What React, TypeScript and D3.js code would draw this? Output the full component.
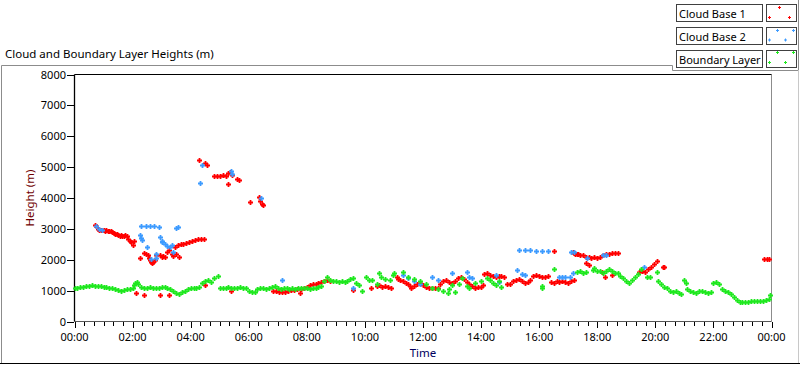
import React, { useEffect, useRef } from "react";
import { select, scaleLinear } from "d3";

// hour of day, height in metres
const cloudBase1: [number, number][] = [
  [0.7, 3120], [0.75, 3080], [0.8, 3000], [0.85, 2960], [0.9, 2950], [0.95, 2960], [1.0, 2950],
  [1.05, 2940], [1.1, 2960], [1.15, 2930], [1.2, 2920], [1.25, 2940], [1.3, 2900], [1.35, 2860],
  [1.4, 2840], [1.45, 2820], [1.5, 2800], [1.55, 2780], [1.6, 2790], [1.65, 2760], [1.7, 2770],
  [1.75, 2790], [1.8, 2760], [1.85, 2670], [1.9, 2620], [1.95, 2580], [2.0, 2470], [2.05, 2600],
  [2.12, 930], [2.24, 2050], [2.41, 845], [2.41, 2210], [2.47, 2180], [2.53, 2150], [2.58, 2050],
  [2.6, 1980], [2.64, 1920], [2.68, 1900], [2.72, 1940], [2.76, 1980], [2.81, 2150],
  [2.93, 870], [2.93, 2150], [3.0, 2100], [3.05, 2130], [3.1, 2080], [3.17, 2250], [3.25, 2300],
  [3.27, 870], [3.35, 2200], [3.4, 2120], [3.45, 2420], [3.5, 2200], [3.55, 2480], [3.6, 2080],
  [3.65, 2500], [3.75, 2520], [3.85, 2550], [3.95, 2580], [4.05, 2600], [4.15, 2640], [4.25, 2680],
  [4.35, 2660], [4.45, 2680], [4.48, 1170], [4.28, 5230], [4.48, 5130], [4.55, 5070],
  [4.82, 4720], [4.9, 4700], [5.0, 4720], [5.1, 4740], [5.2, 4700], [5.27, 4800], [5.3, 4450],
  [5.35, 4840], [5.4, 1000], [5.44, 4760], [5.6, 4620], [5.65, 4580], [6.05, 3880], [6.37, 4030],
  [6.4, 3900], [6.45, 3820], [6.48, 3770],
  [6.85, 980], [6.95, 1000], [7.05, 950], [7.15, 960], [7.25, 940], [7.35, 980], [7.45, 1010],
  [7.55, 1020], [7.65, 1040], [7.75, 920], [7.8, 1060], [7.9, 1080], [8.0, 1120], [8.1, 1170],
  [8.2, 1200], [8.3, 1220], [8.4, 1240], [8.5, 1280], [8.6, 1300], [8.7, 1330], [8.8, 1320],
  [9.58, 1020], [10.2, 1070], [10.4, 1150], [10.5, 1170], [10.6, 1130], [10.7, 1150], [10.8, 1120],
  [10.9, 1100], [11.1, 1430], [11.15, 1380], [11.2, 1350], [11.3, 1300], [11.4, 1250], [11.5, 1200],
  [11.55, 1150], [11.6, 1100], [11.7, 1150], [11.8, 1220], [11.9, 1250], [12.0, 1180], [12.1, 1120],
  [12.2, 1080], [12.3, 1070], [12.4, 1070], [12.5, 1090], [12.6, 1200], [12.7, 1300], [12.8, 1350],
  [12.9, 1280], [13.0, 1250], [13.1, 1300], [13.2, 1400], [13.3, 1430], [13.4, 1380], [13.5, 1270],
  [13.6, 1200], [13.7, 1150], [13.8, 1100], [13.9, 1130], [14.0, 1120], [14.05, 1170], [14.1, 1530],
  [14.2, 1560], [14.3, 1500], [14.4, 1480], [14.5, 1450], [14.6, 1480], [14.7, 1460], [14.8, 1430],
  [14.9, 1230], [15.0, 1230], [15.1, 1300], [15.2, 1350], [15.3, 1380], [15.4, 1300], [15.5, 1250],
  [15.6, 1280], [15.7, 1350], [15.8, 1480], [15.9, 1500], [16.0, 1470], [16.1, 1430], [16.2, 1450],
  [16.3, 1470], [16.4, 1270], [16.5, 1250], [16.6, 1300], [16.7, 1280], [16.8, 1320], [16.9, 1290],
  [17.0, 1260], [17.1, 1300], [17.2, 1330],
  [16.5, 2285], [17.15, 2240], [17.2, 2230], [17.25, 2200], [17.3, 2180], [17.35, 2200], [17.4, 2160],
  [17.5, 2150], [17.6, 2100], [17.7, 2080], [17.8, 2060], [17.9, 2080], [18.0, 2070], [18.1, 2100],
  [18.2, 2150], [18.3, 2180], [18.4, 2200], [18.5, 2230], [18.6, 2220], [18.7, 2210],
  [17.6, 1880], [17.7, 1830], [18.15, 1600], [18.25, 1450], [18.5, 1500], [19.45, 1600], [19.55, 1620],
  [19.65, 1600], [19.75, 1700], [19.85, 1750], [19.95, 1850], [20.05, 1950], [20.25, 1750],
  [20.3, 1770], [23.75, 2015], [23.85, 2015], [23.9, 2015],
];

const cloudBase2: [number, number][] = [
  [0.75, 3100], [0.85, 3000], [0.93, 2960], [2.24, 2800], [2.3, 2700], [2.34, 2630], [2.3, 3100],
  [2.45, 3080], [2.6, 3100], [2.75, 3080], [2.9, 3060], [3.5, 3020], [3.55, 3050], [2.5, 2400],
  [2.65, 2020], [2.8, 2200], [2.8, 2050], [2.93, 2730], [3.0, 2620], [3.03, 2570], [3.1, 2520],
  [3.2, 2450], [3.3, 2400], [3.37, 2470], [3.4, 2240], [4.33, 4500], [4.4, 5070], [5.4, 4890],
  [5.43, 4780], [6.43, 3990], [7.13, 1330], [9.58, 1070], [11.3, 1500], [11.5, 1400], [11.7, 1300],
  [11.9, 1230], [12.3, 1430], [12.5, 1330], [13.0, 1560], [13.5, 1600], [13.6, 1450], [13.7, 1400],
  [14.5, 1500], [14.6, 1270], [15.25, 1660], [15.4, 1550], [15.5, 1500], [15.3, 2300], [15.5, 2300],
  [15.7, 2300], [15.9, 2290], [16.1, 2285], [16.3, 2290], [16.7, 1430], [16.8, 1430], [16.9, 1430],
  [17.05, 1430], [17.15, 1560], [17.1, 2240], [17.2, 2240], [17.65, 2050], [18.2, 2150], [18.3, 2150],
  [19.6, 1750],
];

const boundaryLayer: [number, number][] = [
  [0.0, 1090], [0.1, 1100], [0.2, 1120], [0.3, 1130], [0.4, 1150], [0.5, 1160], [0.6, 1170],
  [0.7, 1150], [0.8, 1160], [0.9, 1140], [1.0, 1130], [1.1, 1120], [1.2, 1100], [1.3, 1070],
  [1.4, 1040], [1.5, 1010], [1.6, 1000], [1.7, 1020], [1.8, 1040], [1.9, 1060], [2.0, 1080],
  [2.05, 1180], [2.1, 1260], [2.15, 1290], [2.2, 1200], [2.3, 1120], [2.4, 1100], [2.5, 1090],
  [2.6, 1110], [2.7, 1100], [2.8, 1080], [2.9, 1100], [3.0, 1110], [3.1, 1120], [3.2, 1080],
  [3.3, 1040], [3.4, 980], [3.5, 930], [3.6, 900], [3.7, 940], [3.8, 990], [3.9, 1040], [4.0, 1070],
  [4.1, 1090], [4.2, 1100], [4.3, 1120], [4.4, 1240], [4.5, 1300], [4.6, 1350], [4.7, 1280],
  [4.8, 1400], [4.95, 1470], [5.0, 1100], [5.1, 1080], [5.2, 1100], [5.3, 1110], [5.4, 1090],
  [5.5, 1080], [5.6, 1100], [5.7, 1120], [5.8, 1100], [5.9, 1080], [6.0, 1000], [6.1, 950],
  [6.2, 960], [6.3, 1040], [6.4, 1070], [6.5, 1080], [6.6, 1050], [6.7, 1070], [6.8, 1120],
  [6.9, 1140], [7.0, 1100], [7.1, 1060], [7.2, 1080], [7.3, 1070], [7.4, 1050], [7.5, 1080],
  [7.6, 1060], [7.7, 1070], [7.8, 1090], [7.9, 1070], [8.0, 1080], [8.1, 1060], [8.2, 1090],
  [8.3, 1100], [8.4, 1110], [8.5, 1150], [8.6, 1300], [8.7, 1430], [8.8, 1350], [8.9, 1300],
  [9.0, 1320], [9.1, 1290], [9.2, 1300], [9.3, 1280], [9.4, 1310], [9.5, 1380], [9.6, 1400],
  [9.7, 1250], [9.8, 1180], [9.9, 985], [10.05, 1430], [10.15, 1330], [10.25, 1330], [10.4, 1230],
  [10.5, 1560], [10.55, 1430], [10.7, 1380], [10.85, 1330], [10.95, 1500], [11.0, 1560],
  [11.3, 1600], [11.5, 1450], [11.7, 1380], [11.9, 1300], [12.1, 1200], [12.3, 1100], [12.5, 1050],
  [12.7, 1000], [12.85, 920], [12.9, 1050], [13.0, 1180], [13.1, 950], [13.25, 1230], [13.35, 1400],
  [13.5, 1150], [13.6, 1100], [13.8, 1250], [14.0, 1300], [14.2, 1400], [14.3, 1350], [14.4, 1250],
  [14.5, 1170], [14.6, 1300], [14.7, 1120], [16.1, 1150], [16.1, 1070], [16.5, 1690], [17.3, 1600],
  [17.4, 1620], [17.5, 1580], [17.6, 1600], [17.85, 1680], [17.9, 1720], [18.0, 1650], [18.1, 1620],
  [18.2, 1580], [18.3, 1650], [18.4, 1700], [18.5, 1620], [18.6, 1580], [18.7, 1560], [18.8, 1480],
  [18.9, 1400], [19.0, 1300], [19.1, 1250], [19.2, 1350], [19.3, 1450], [19.4, 1550], [19.5, 1700],
  [19.7, 1430], [19.8, 1430], [20.05, 1600], [20.1, 1300], [20.2, 1200], [20.3, 1130], [20.4, 1070],
  [20.5, 1000], [20.6, 950], [20.7, 980], [20.8, 920], [20.9, 900], [21.0, 1350], [21.05, 1250],
  [21.1, 1050], [21.2, 1000], [21.3, 950], [21.4, 920], [21.5, 1000], [21.6, 1000], [21.7, 950],
  [21.8, 920], [21.9, 950], [22.0, 1250], [22.1, 1270], [22.2, 1230], [22.3, 1050], [22.4, 980],
  [22.5, 950], [22.6, 900], [22.7, 780], [22.8, 700], [22.9, 640], [23.0, 630], [23.1, 620],
  [23.2, 640], [23.3, 650], [23.4, 660], [23.5, 650], [23.6, 680], [23.7, 660], [23.8, 700],
  [23.9, 720], [23.95, 850],
];

const yTicks = [0, 1000, 2000, 3000, 4000, 5000, 6000, 7000, 8000];
const xTickHours = [0, 2, 4, 6, 8, 10, 12, 14, 16, 18, 20, 22, 24];
const xTickLabels = ["00:00", "02:00", "04:00", "06:00", "08:00", "10:00", "12:00", "14:00", "16:00", "18:00", "20:00", "22:00", "00:00"];
const seriesNames = ["Cloud Base 1", "Cloud Base 2", "Boundary Layer"];
const seriesColors = ["#ff0000", "#3d9bff", "#1fe81f"];

const FONT = "'Noto Sans', sans-serif";

export default function App() {
  const svgRef = useRef<SVGSVGElement>(null);

  useEffect(() => {
    const W = 800, H = 365;
    const svg = select(svgRef.current);
    svg.selectAll("*").remove();
    svg.attr("width", W).attr("height", H).style("font-family", FONT);

    svg.append("rect").attr("width", W).attr("height", H).attr("fill", "#ffffff");

    const x = scaleLinear().domain([0, 24]).range([74.5, 771.5]);
    const y = scaleLinear().domain([0, 8000]).range([321.5, 74.5]);

    // === outer frame ===
    svg.append("path").attr("d", "M1.5,363V65.5H672.5").attr("fill", "none").attr("stroke", "#8c8c8c");
    svg.append("line").attr("x1", 0).attr("x2", W).attr("y1", 363.5).attr("y2", 363.5).attr("stroke", "#000");
    svg.append("path").attr("d", "M672.5,65.5V70.5H798.5V0").attr("fill", "none").attr("stroke", "#8c8c8c");
    svg.append("line").attr("x1", 798.5).attr("x2", 798.5).attr("y1", 70).attr("y2", 363).attr("stroke", "#c8c8c8");

    svg.append("text")
      .attr("x", 5).attr("y", 58)
      .attr("font-size", "11.5px").attr("fill", "#000")
      .text("Cloud and Boundary Layer Heights (m)");

    // === plot frame ===
    svg.append("line").attr("x1", x(24)).attr("x2", x(24)).attr("y1", y(8000)).attr("y2", y(0)).attr("stroke", "#8c8c8c");
    svg.append("line").attr("x1", x(0)).attr("x2", x(24)).attr("y1", y(8000)).attr("y2", y(8000)).attr("stroke", "#000");
    svg.append("line").attr("x1", x(0)).attr("x2", x(24)).attr("y1", y(0)).attr("y2", y(0)).attr("stroke", "#555");
    svg.append("line").attr("x1", x(0)).attr("x2", x(0)).attr("y1", y(8000)).attr("y2", y(0)).attr("stroke", "#000").attr("stroke-width", 1.3);

    // === y axis ===
    const gy = svg.append("g");
    yTicks.forEach((t) => {
      gy.append("line").attr("x1", 67).attr("x2", 74).attr("y1", Math.round(y(t)) + 0.5).attr("y2", Math.round(y(t)) + 0.5).attr("stroke", "#000");
      gy.append("text").attr("x", 66).attr("y", Math.round(y(t)) + 4)
        .attr("text-anchor", "end").attr("font-size", "11px").attr("fill", "#000").text(String(t));
    });

    // === x axis ===
    const gx = svg.append("g");
    for (let m = 0; m <= 24 * 3; m++) {
      const xx = Math.round(x(m / 3)) + 0.5;
      gx.append("line").attr("x1", xx).attr("x2", xx).attr("y1", 322).attr("y2", m % 6 === 0 ? 328 : 326).attr("stroke", "#000");
    }
    xTickHours.forEach((h, i) => {
      gx.append("text").attr("x", x(h)).attr("y", 341)
        .attr("text-anchor", "middle").attr("font-size", "11px").attr("fill", "#000").text(xTickLabels[i]);
    });

    svg.append("text").attr("x", (x(0) + x(24)) / 2).attr("y", 357)
      .attr("text-anchor", "middle").attr("font-size", "11.5px").attr("fill", "#000060").text("Time");
    svg.append("text").attr("transform", `translate(34,${(y(0) + y(8000)) / 2}) rotate(-90)`)
      .attr("text-anchor", "middle").attr("font-size", "11.5px").attr("fill", "#700000").text("Height (m)");

    // === data ===
    const plus = "M-2.5,0H2.5M0,-2.5V2.5";
    [cloudBase1, cloudBase2, boundaryLayer].forEach((series, si) => {
      svg.append("g").selectAll("path").data(series).enter().append("path")
        .attr("d", plus)
        .attr("transform", (d) => `translate(${Math.round(x(d[0])) + 0.5},${Math.round(y(d[1])) + 0.5})`)
        .attr("stroke", seriesColors[si]).attr("stroke-width", 1.8).attr("fill", "none");
    });

    // === legend ===
    const small = "M-1.5,0H1.5M0,-1.5V1.5";
    const iconPts = [
      [[13, 2.5], [3, 12.5], [23, 12.5]],
      [[11, 2.5], [27, 2.5], [3, 12], [19, 12]],
      [[11, 1.5], [27, 1.5], [3, 11.5], [19, 11.5]],
    ];
    seriesNames.forEach((name, i) => {
      const top = 4 + i * 23;
      const g = svg.append("g").attr("transform", `translate(0,${top})`);
      g.append("rect").attr("x", 676.5).attr("y", 0.5).attr("width", 86).attr("height", 17)
        .attr("fill", "#fff").attr("stroke", "#404040");
      g.append("text").attr("x", 679).attr("y", 13.5).attr("font-size", "11px").attr("fill", "#000").text(name);
      g.append("rect").attr("x", 766.5).attr("y", 0.5).attr("width", 30).attr("height", 17)
        .attr("fill", "#fff").attr("stroke", "#404040");
      iconPts[i].forEach((p) => {
        g.append("path").attr("d", small).attr("transform", `translate(${766.5 + p[0]},${1 + p[1]})`)
          .attr("stroke", seriesColors[i]).attr("stroke-width", 1);
      });
    });
  }, []);

  return (
    <div style={{ position: "absolute", left: 0, top: 0 }}>
      <svg ref={svgRef}></svg>
    </div>
  );
}
